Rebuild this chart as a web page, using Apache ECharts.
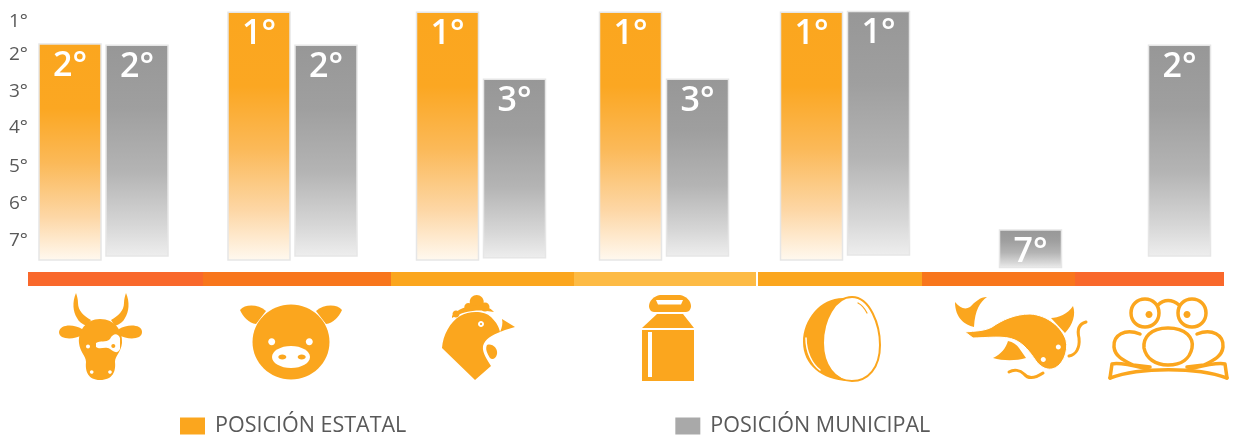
<!DOCTYPE html>
<html>
<head>
<meta charset="utf-8">
<style>
  html, body { margin: 0; padding: 0; background: #fff; }
  #grafica { width: 1233px; height: 437px; }
</style>
<script src="https://cdn.jsdelivr.net/npm/echarts@6/dist/echarts.min.js"></script>
</head>
<body>
<div id="grafica"></div>
<script>
// Datos
const especies = ['Bovino', 'Porcino', 'Ave', 'Leche', 'Huevo', 'Pescado', 'Rana'];
const posicionEstatal = [2, 1, 1, 1, 1, null, null];
const posicionMunicipal = [2, 2, 3, 3, 1, 7, 2];
// Extremos reales de cada barra en la escala del eje (no caen justo en el rango)
const topeEstatal = [1.69, 0.81, 0.81, 0.81, 0.81, null, null];
const baseEstatal = [7.66, 7.66, 7.66, 7.66, 7.66, null, null];
const topeMunicipal = [1.72, 1.72, 2.66, 2.66, 0.79, 6.83, 1.72];
const baseMunicipal = [7.55, 7.55, 7.6, 7.55, 7.52, 7.87, 7.55];
const etiquetasEje = [1, 2, 3, 4, 5, 6, 7];
const marcasEje = [1.08, 1.99, 3.01, 3.99, 5.09, 6.11, 7.11];
const tramos = ['Bovino', 'Porcino', 'Ave', 'Leche', 'corte', 'Huevo', 'Pescado', 'Rana'];
const anchoTramos = [175, 188, 183, 182, 2, 164, 153, 149];

// Disposicion (pixeles)
const centroGrupo = [75.5, 264.5, 453, 636, 817, 969, 1118];
const anchoBarra = 62;
const separacion = 5;
const coloresTramos = ['#F9682B', '#F8761C', '#FBA61E', '#FDBB45', '#ffffff', '#FBA61E', '#F8761C', '#F9682B'];
const NARANJA = '#FBA61E';
const BLANCO = '#ffffff';

function gradiente(stops) {
    return new echarts.graphic.LinearGradient(0, 0, 0, 1, stops);
}
const gradNaranja = [
    { offset: 0, color: '#FBA61E' }, { offset: 0.3, color: '#FBA722' },
    { offset: 0.55, color: '#FBB958' }, { offset: 0.8, color: '#FDD7A6' },
    { offset: 1, color: '#FFF9F0' }
];
const gradGris = [
    { offset: 0, color: '#979797' }, { offset: 0.3, color: '#9F9F9F' },
    { offset: 0.6, color: '#B4B4B4' }, { offset: 0.85, color: '#D6D6D6' },
    { offset: 1, color: '#EEEEEE' }
];

// Barra con su texto dentro
function barra(desplazamiento, stops) {
    return function (params, api) {
        if (api.value(2) == null || isNaN(api.value(2))) return null;
        const arriba = api.coord([api.value(0), api.value(2)]);
        const abajo = api.coord([api.value(0), api.value(1)]);
        const x = arriba[0] + desplazamiento;
        return {
            type: 'group',
            children: [
                {
                    type: 'rect',
                    shape: { x: x, y: arriba[1], width: anchoBarra, height: abajo[1] - arriba[1] },
                    style: { fill: gradiente(stops), stroke: '#E6E6E6', lineWidth: 1.5 }
                },
                {
                    type: 'text',
                    style: {
                        x: x + anchoBarra / 2,
                        y: arriba[1] + 22,
                        text: api.value(3) + '°',
                        fill: BLANCO,
                        font: '600 34px "Open Sans"',
                        textAlign: 'center',
                        textVerticalAlign: 'middle'
                    }
                }
            ]
        };
    };
}

function relleno(d, color) {
    return { type: 'path', shape: { pathData: d }, style: { fill: color || NARANJA } };
}
function trazo(d, ancho, color) {
    return {
        type: 'path',
        shape: { pathData: d },
        style: { fill: 'none', stroke: color || NARANJA, lineWidth: ancho, lineCap: 'round', lineJoin: 'round' }
    };
}
function ovalo(cx, cy, rx, ry, color) {
    return { type: 'ellipse', shape: { cx: cx, cy: cy, rx: rx, ry: ry }, style: { fill: color } };
}

// Iconos de cada especie, dibujados a mano
const iconoVaca = [
    relleno('M76 293 C72 302 73 312 77 318 C79 322 82 324 87 326 L91 320 C84 316 78 311 78 303 C78 299 77 296 76 293 Z'),
    relleno('M126 293 C130 302 129 312 125 318 C123 322 120 324 115 326 L111 320 C118 316 124 311 124 303 C124 299 125 296 126 293 Z'),
    relleno('M82 329 C74 324 60 324 59 332 C59 340 74 340 82 335 Z'),
    relleno('M119 329 C127 324 142 324 142 332 C142 340 127 340 119 335 Z'),
    relleno('M100 319 C115 319 123 331 122 343 C121 352 115 356 115 362 C116 371 113 380 100 380 C88 380 85 371 86 362 C86 356 80 352 79 343 C78 331 86 319 100 319 Z'),
    relleno('M96 343 C100 340 106 343 110 339 C113 333 118 333 120 338 L120 349 C117 355 113 351 110 349 C105 346 100 350 96 347 Z', BLANCO),
    ovalo(113.3, 346, 2, 2, NARANJA),
    ovalo(88, 346.5, 2, 2, BLANCO),
    ovalo(91.7, 372, 1.8, 1.8, BLANCO),
    ovalo(110, 372, 1.8, 1.8, BLANCO)
];
const iconoCerdo = [
    relleno('M240 310 C245 304 258 304 266 311 L256 324 C249 323 243 317 240 310 Z'),
    relleno('M342 310 C337 304 324 304 316 311 L326 324 C333 323 339 317 342 310 Z'),
    ovalo(291, 342, 38.5, 37.5, NARANJA),
    ovalo(271.7, 341.7, 3.5, 3.5, BLANCO),
    ovalo(309.3, 341.7, 3.5, 3.5, BLANCO),
    ovalo(291, 357, 19, 11, BLANCO),
    ovalo(282.3, 357, 4, 2.5, NARANJA),
    ovalo(301.7, 357, 4, 2.5, NARANJA)
];
const iconoGallo = [
    ovalo(476.7, 302, 7, 7, NARANJA),
    ovalo(485, 307, 4.5, 4.5, NARANJA),
    ovalo(468.3, 307, 4, 4, NARANJA),
    ovalo(456, 314, 3.5, 3.5, NARANJA),
    relleno('M452 316 C460 305 485 301 494 312 C480 309 465 310 452 318 Z'),
    relleno('M442 348 C443 335 450 322 460 316 C470 310 485 311 491 317 C497 323 499 327 500 332 C492 335 485 339 483 346 C482 353 487 359 491 366 L475 380 Z'),
    relleno('M502 319 L515 327 L505 330 L500 332 C502 328 503 323 502 319 Z'),
    relleno('M487 345 C492 343 498 348 497 354 C496 359 492 360 490 358 C487 353 485 349 487 345 Z'),
    ovalo(481, 324, 3, 3, BLANCO),
    ovalo(481, 324, 1, 1, NARANJA)
];
const iconoLechera = [
    relleno('M660 295 L680 295 C686 296 691 301 691 306 C691 309 689 312 686 312 L654 312 C651 312 649 309 649 306 C649 301 654 296 660 295 Z'),
    relleno('M656 300 L683 300 L681 304.5 L658 304.5 Z', BLANCO),
    relleno('M657 314 L683 314 L694 328 L642 328 Z'),
    relleno('M642 330 L694 330 L694 381 L642 381 Z'),
    relleno('M648 332 L652 332 L652 377 L648 377 Z', BLANCO)
];
const iconoHuevo = [
    relleno('M843 298 C820 298 803 320 803 342 C803 365 822 380 848 381 C830 375 823 360 823 342 C823 322 832 305 845 298 Z'),
    trazo('M852 297 C870 297 880 325 880 345 C880 368 868 381 852 381 C835 381 823 365 823 343 C823 320 835 297 852 297 Z', 2),
    trazo('M806 338 C806 352 812 364 820 370', 1.5, BLANCO),
    trazo('M858 303 C862 305 865 309 867 313', 1.2)
];
const iconoPez = [
    relleno('M955 302 C960 308 965 310 970 307 C975 302 980 297 987 297 C980 302 975 310 974 327 C965 325 955 318 955 302 Z'),
    relleno('M1051 318 C1058 318 1068 314 1073 306 C1076 314 1073 325 1065 333 Z'),
    relleno('M993 358 C1001 354 1006 348 1008 341 C1013 342 1017 345 1019 348 L1026 358 C1016 361 1003 361 993 358 Z'),
    {
        type: 'path',
        shape: { pathData: 'M965 332 C975 331 985 331 992 327 C1002 320 1015 314 1030 314 C1048 315 1062 328 1066 340 C1069 352 1062 367 1052 369 C1045 370 1040 366 1036 361 C1030 352 1024 344 1015 340 C1004 335 985 338 973 338 Z' },
        style: { fill: NARANJA, stroke: BLANCO, lineWidth: 1 }
    },
    trazo('M1086 322 C1079 324 1077 330 1079 338 C1080 348 1076 355 1069 356', 3),
    trazo('M1009 372 C1014 369 1020 370 1024 374 C1028 379 1034 379 1043 373', 3),
    ovalo(1058.3, 347, 2.5, 2.5, BLANCO),
    ovalo(1043.3, 359.5, 2.5, 2.5, BLANCO)
];
const iconoRana = [
    trazo('M1158 305 C1164 299 1172 299 1179 305', 3.5),
    trazo('M1159 313 C1159 321 1153 327 1145 327 C1137 327 1131 321 1131 313 C1131 305 1137 299 1145 299 C1153 299 1159 305 1159 313 Z', 3.5),
    trazo('M1206 313 C1206 321 1200 327 1192 327 C1184 327 1178 321 1178 313 C1178 305 1184 299 1192 299 C1200 299 1206 305 1206 313 Z', 3.5),
    ovalo(1149, 314.5, 3.5, 3.5, NARANJA),
    ovalo(1187, 314.5, 3.5, 3.5, NARANJA),
    trazo('M1168 328 C1150 328 1143 338 1144 348 C1146 358 1155 365 1168 365 C1182 365 1190 358 1192 348 C1194 338 1186 328 1168 328 Z', 3.5),
    trazo('M1140 334 C1125 328 1113 335 1114 347 C1115 357 1125 361 1133 365 L1150 367', 3.5),
    trazo('M1197 334 C1212 328 1224 335 1223 347 C1222 357 1212 361 1204 365 L1187 367', 3.5),
    trazo('M1110 378 C1140 367 1197 367 1227 378', 3.5),
    trazo('M1110 378 L1112 364 C1120 362 1135 366 1148 369', 3.5),
    trazo('M1227 378 L1225 364 C1217 362 1202 366 1189 369', 3.5)
];
const iconos = [].concat(iconoVaca, iconoCerdo, iconoGallo, iconoLechera, iconoHuevo, iconoPez, iconoRana);

const chart = echarts.init(document.getElementById('grafica'), null, { renderer: 'canvas' });

const seriesFranja = tramos.map(function (nombre, i) {
    return {
        name: nombre,
        type: 'bar',
        xAxisIndex: 1,
        yAxisIndex: 1,
        stack: 'franja',
        barWidth: '100%',
        silent: true,
        itemStyle: { color: coloresTramos[i] },
        data: [anchoTramos[i]]
    };
});

const option = {
    animation: false,
    grid: [
        { left: 28, top: 1, width: 1196, height: 271.3 },
        { left: 28, top: 272, width: 1196, height: 14 }
    ],
    legend: {
        left: 180,
        top: 415,
        padding: 0,
        itemWidth: 25,
        itemHeight: 17,
        itemGap: 269,
        selectedMode: false,
        textStyle: { color: '#595959', fontFamily: 'Open Sans', fontSize: 21.5, padding: [0, 0, 0, 5] },
        data: [
            { name: 'POSICIÓN ESTATAL', icon: 'rect', itemStyle: { color: NARANJA } },
            { name: 'POSICIÓN MUNICIPAL', icon: 'rect', itemStyle: { color: '#A9A9A9' } }
        ]
    },
    xAxis: [
        { type: 'value', min: 0, max: 1196, show: false },
        { type: 'value', gridIndex: 1, min: 0, max: 1196, show: false }
    ],
    yAxis: [
        {
            type: 'value',
            inverse: true,
            min: 0.5,
            max: 8,
            axisLine: { show: false },
            axisTick: { show: false },
            splitLine: { show: false },
            axisLabel: {
                customValues: marcasEje,
                margin: 0,
                color: '#595959',
                fontFamily: 'Open Sans',
                fontSize: 19,
                formatter: function (v) {
                    return etiquetasEje[marcasEje.indexOf(v)] + '°';
                }
            }
        },
        { type: 'category', gridIndex: 1, data: ['franja'], show: false }
    ],
    series: [
        {
            name: 'POSICIÓN ESTATAL',
            type: 'custom',
            renderItem: barra(-separacion / 2 - anchoBarra, gradNaranja),
            encode: { x: 0, y: [1, 2] },
            data: especies.map(function (e, i) {
                return [centroGrupo[i], baseEstatal[i], topeEstatal[i], posicionEstatal[i]];
            })
        },
        {
            name: 'POSICIÓN MUNICIPAL',
            type: 'custom',
            renderItem: barra(separacion / 2, gradGris),
            encode: { x: 0, y: [1, 2] },
            data: especies.map(function (e, i) {
                return [centroGrupo[i], baseMunicipal[i], topeMunicipal[i], posicionMunicipal[i]];
            })
        },
        {
            name: 'iconos',
            type: 'custom',
            coordinateSystem: 'none',
            silent: true,
            clip: false,
            renderItem: function () {
                return { type: 'group', children: iconos };
            },
            data: [[0]]
        }
    ].concat(seriesFranja)
};

chart.setOption(option);
window.addEventListener('resize', chart.resize);
</script>
</body>
</html>
